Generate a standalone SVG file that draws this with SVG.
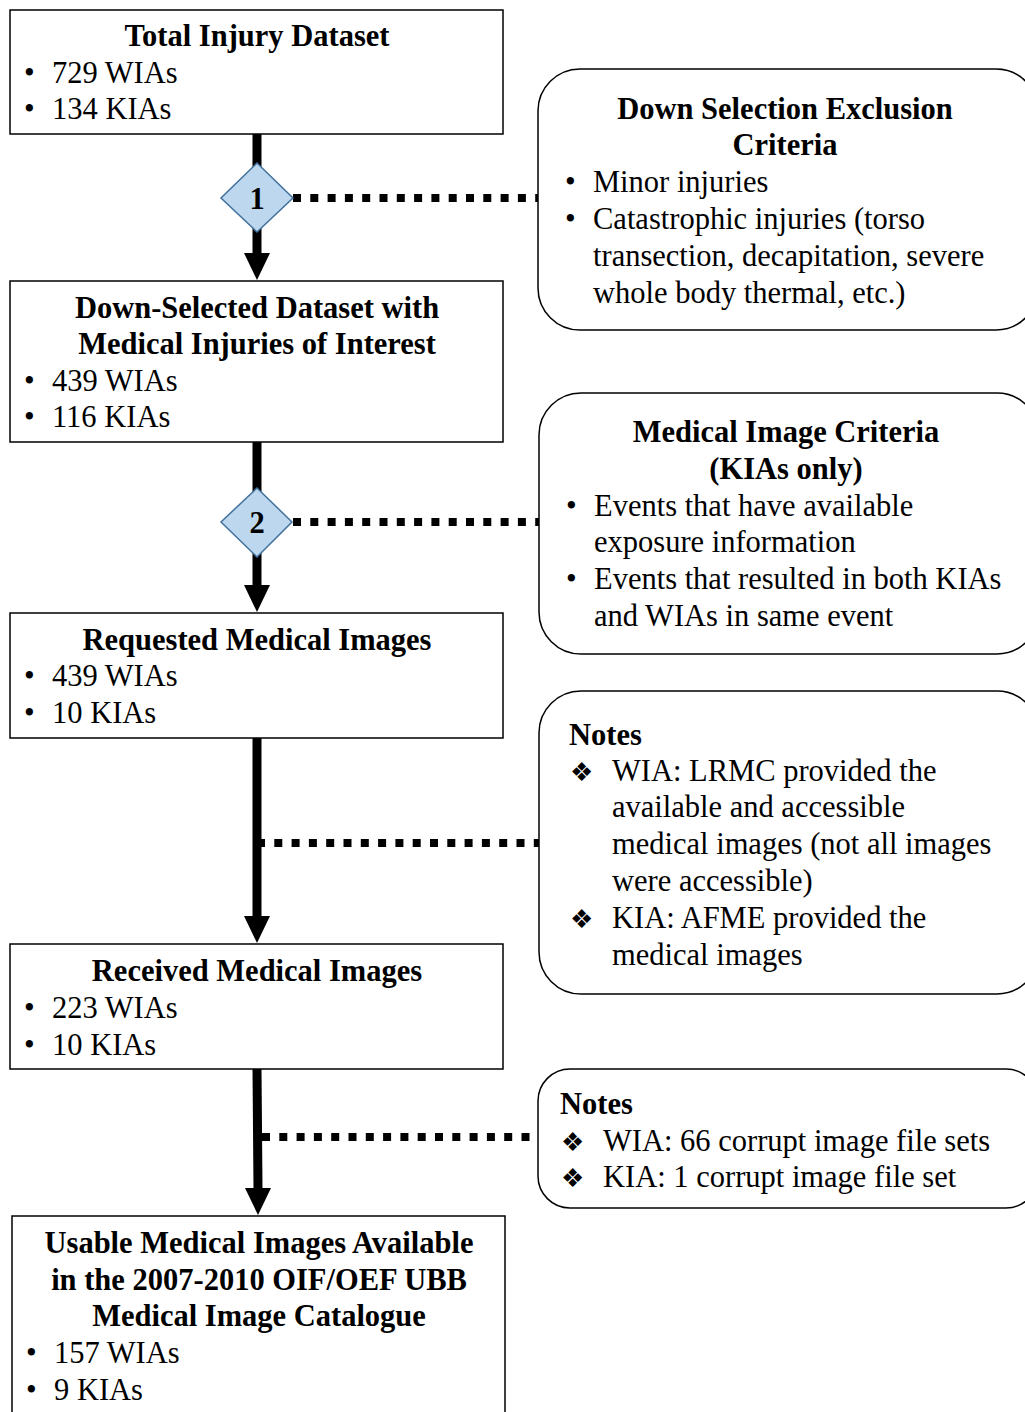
<svg xmlns="http://www.w3.org/2000/svg" width="1025" height="1412" viewBox="0 0 1025 1412">
<style>
.box{fill:#fff;stroke:#000;stroke-width:1.5}
.rbox{fill:#fff;stroke:#000;stroke-width:1.5}
text{font-family:"Liberation Serif","Times New Roman",serif;font-size:30.5px;fill:#000}
.b{font-weight:bold}
.c{text-anchor:middle}
.sym{font-family:"DejaVu Sans",sans-serif;font-size:26px}
.flow{stroke:#000;stroke-width:9;fill:none}
.dot{stroke:#000;stroke-width:8;stroke-dasharray:8 9.3;fill:none}
.dia{fill:#bdd7ee;stroke:#41719c;stroke-width:1.5}
</style>
<g id="connectors">
<line class="flow" x1="257" y1="134" x2="257" y2="254"/>
<path d="M244,253 L270,253 L257,280 Z"/>
<line class="flow" x1="257" y1="442" x2="257" y2="586"/>
<path d="M244,585 L270,585 L257,612 Z"/>
<line class="flow" x1="257" y1="738" x2="257" y2="917"/>
<path d="M244,916 L270,916 L257,943 Z"/>
<line class="flow" x1="257" y1="1069" x2="258" y2="1189"/>
<path d="M245,1188 L271,1188 L258,1215 Z"/>
<line class="dot" x1="293" y1="198" x2="545" y2="198"/>
<line class="dot" x1="293" y1="522" x2="545" y2="522"/>
<line class="dot" x1="257" y1="843" x2="545" y2="843"/>
<line class="dot" x1="262" y1="1137" x2="545" y2="1137"/>
</g>
<g id="d1">
<polygon class="dia" points="257,163 293,198 257,232 221,198"/>
<text class="b c" x="257" y="209">1</text>
</g>
<g id="d2">
<polygon class="dia" points="257,488 292,522 257,557 221,522"/>
<text class="b c" x="257" y="533">2</text>
</g>
<g id="n1">
<rect class="box" x="10" y="10" width="493" height="124"/>
<text class="b c" x="257" y="46">Total Injury Dataset</text>
<text x="24" y="83">•</text><text x="52" y="83">729 WIAs</text>
<text x="24" y="119">•</text><text x="52" y="119">134 KIAs</text>
</g>
<g id="n2">
<rect class="box" x="10" y="281" width="493" height="161"/>
<text class="b c" x="257" y="318">Down-Selected Dataset with</text>
<text class="b c" x="257" y="354">Medical Injuries of Interest</text>
<text x="24" y="391">•</text><text x="52" y="391">439 WIAs</text>
<text x="24" y="427">•</text><text x="52" y="427">116 KIAs</text>
</g>
<g id="n3">
<rect class="box" x="10" y="613" width="493" height="125"/>
<text class="b c" x="257" y="650">Requested Medical Images</text>
<text x="24" y="686">•</text><text x="52" y="686">439 WIAs</text>
<text x="24" y="723">•</text><text x="52" y="723">10 KIAs</text>
</g>
<g id="n4">
<rect class="box" x="10" y="944" width="493" height="125"/>
<text class="b c" x="257" y="981">Received Medical Images</text>
<text x="24" y="1018">•</text><text x="52" y="1018">223 WIAs</text>
<text x="24" y="1055">•</text><text x="52" y="1055">10 KIAs</text>
</g>
<g id="n5">
<rect class="box" x="12" y="1216" width="493" height="220"/>
<text class="b c" x="259" y="1253">Usable Medical Images Available</text>
<text class="b c" x="259" y="1290">in the 2007-2010 OIF/OEF UBB</text>
<text class="b c" x="259" y="1326">Medical Image Catalogue</text>
<text x="26" y="1363">•</text><text x="54" y="1363">157 WIAs</text>
<text x="26" y="1400">•</text><text x="54" y="1400">9 KIAs</text>
</g>
<g id="r1">
<rect class="rbox" x="538" y="69" width="500" height="261" rx="42" ry="42"/>
<text class="b c" x="785" y="119">Down Selection Exclusion</text>
<text class="b c" x="785" y="155">Criteria</text>
<text x="565" y="192">•</text><text x="593" y="192">Minor injuries</text>
<text x="565" y="229">•</text><text x="593" y="229">Catastrophic injuries (torso</text>
<text x="593" y="266">transection, decapitation, severe</text>
<text x="593" y="303">whole body thermal, etc.)</text>
</g>
<g id="r2">
<rect class="rbox" x="539" y="393" width="500" height="261" rx="42" ry="42"/>
<text class="b c" x="786" y="442">Medical Image Criteria</text>
<text class="b c" x="786" y="479">(KIAs only)</text>
<text x="566" y="516">•</text><text x="594" y="516">Events that have available</text>
<text x="594" y="552">exposure information</text>
<text x="566" y="589">•</text><text x="594" y="589">Events that resulted in both KIAs</text>
<text x="594" y="626">and WIAs in same event</text>
</g>
<g id="r3">
<rect class="rbox" x="539" y="691" width="500" height="303" rx="42" ry="42"/>
<text class="b" x="569" y="745">Notes</text>
<text class="sym" x="570" y="781">❖</text>
<text x="612" y="781">WIA: LRMC provided the</text>
<text x="612" y="817">available and accessible</text>
<text x="612" y="854">medical images (not all images</text>
<text x="612" y="891">were accessible)</text>
<text class="sym" x="570" y="928">❖</text>
<text x="612" y="928">KIA: AFME provided the</text>
<text x="612" y="965">medical images</text>
</g>
<g id="r4">
<rect class="rbox" x="538" y="1069" width="500" height="139" rx="32" ry="32"/>
<text class="b" x="560" y="1114">Notes</text>
<text class="sym" x="561" y="1151">❖</text>
<text x="603" y="1151">WIA: 66 corrupt image file sets</text>
<text class="sym" x="561" y="1187">❖</text>
<text x="603" y="1187">KIA: 1 corrupt image file set</text>
</g>
</svg>
